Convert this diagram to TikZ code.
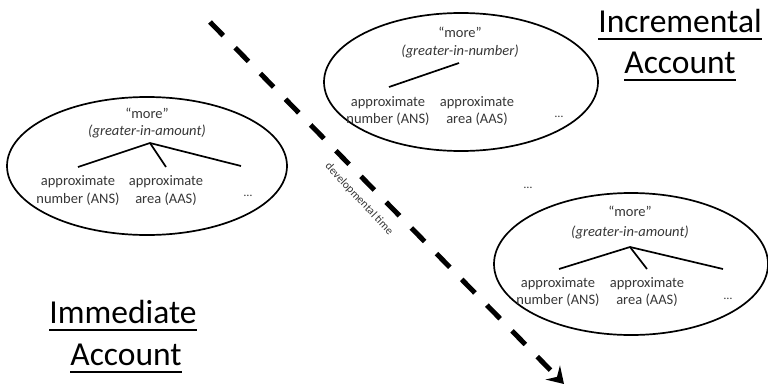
\documentclass[tikz,border=0pt]{standalone}
\usepackage{fontspec}
\setmainfont{Carlito}
\usetikzlibrary{shapes.geometric,arrows.meta}
\definecolor{txt}{HTML}{363636}
\newcommand\ulx[1]{\setbox0\hbox{#1}\rlap{\rule[-7.5pt]{\wd0}{1.9pt}}\box0}
\tikzset{
  oval/.style={draw, ellipse, line width=1.7pt, inner sep=0pt},
  lbl/.style={font=\fontsize{14.5}{16}\selectfont, text=txt, inner sep=0pt, anchor=base},
  ilbl/.style={lbl, font=\fontsize{14.5}{16}\selectfont\itshape},
  dots/.style={font=\fontsize{12}{14}\selectfont, text=txt, inner sep=0pt, anchor=base},
  title/.style={font=\fontsize{33.5}{40}\selectfont, inner sep=0pt, anchor=base},
  branch/.style={line width=1.7pt},
  timearrow/.style={line width=5pt, dash pattern=on 19pt off 17pt, -{Stealth[length=16pt,width=20pt,inset=6pt]}}
}
\begin{document}
\begin{tikzpicture}[x=1pt,y=-1pt]
\useasboundingbox (0,0) rectangle (768,391);
% time arrow
\coordinate (ts) at (210,22);
\coordinate (te) at (564,384);
\draw[timearrow] (ts) -- (te);
\node[font=\fontsize{11.5}{13}\selectfont, text=txt, rotate=-47, inner sep=0pt] (dt) at (359,199) {developmental time};

% left ellipse (immediate)
\node[oval, minimum width=280pt, minimum height=138pt] (E1) at (147,166) {};
\node[lbl] (m1) at (147,118) {“more”};
\node[ilbl] (g1) at (147,135) {(greater-in-amount)};
\coordinate (a1) at (150,143);
\coordinate (l1) at (78,167);
\coordinate (c1) at (166,167);
\coordinate (r1) at (241,166);
\draw[branch] (l1) -- (a1) -- (r1);
\draw[branch] (a1) -- (c1);
\node[lbl] (ap1) at (78,185) {approximate};
\node[lbl] (n1) at (78,203) {number (ANS)};
\node[lbl] (ap1b) at (166,185) {approximate};
\node[lbl] (ar1) at (166,203) {area (AAS)};
\node[dots] (d1) at (248,196) {…};

% top right ellipse
\node[oval, minimum width=274pt, minimum height=138pt] (E2) at (461,82) {};
\node[lbl] (m2) at (460,37) {“more”};
\node[ilbl] (g2) at (460,55) {(greater-in-number)};
\coordinate (a2) at (459,63);
\coordinate (l2) at (389,87);
\draw[branch] (l2) -- (a2);
\node[lbl] (ap2) at (388,106) {approximate};
\node[lbl] (n2) at (388,123) {number (ANS)};
\node[lbl] (ap2b) at (477,106) {approximate};
\node[lbl] (ar2) at (477,123) {area (AAS)};
\node[dots] (d2) at (559,117) {…};

% middle dots
\node[dots] (dm) at (528,188) {…};

% bottom right ellipse
\node[oval, minimum width=274pt, minimum height=142pt] (E3) at (631,264) {};
\node[lbl] (m3) at (630,216) {“more”};
\node[ilbl] (g3) at (630,236) {(greater-in-amount)};
\coordinate (a3) at (630,247);
\coordinate (l3) at (559,269);
\coordinate (c3) at (647,269);
\coordinate (r3) at (723,269);
\draw[branch] (l3) -- (a3) -- (r3);
\draw[branch] (a3) -- (c3);
\node[lbl] (ap3) at (558,287) {approximate};
\node[lbl] (n3) at (558,304) {number (ANS)};
\node[lbl] (ap3b) at (647,287) {approximate};
\node[lbl] (ar3) at (647,304) {area (AAS)};
\node[dots] (d3) at (728,299) {…};

% titles
\node[title] (inc1) at (680,32) {\ulx{Incremental}};
\node[title] (inc2) at (680,73) {\ulx{Account}};
\node[title] (imm1) at (123,323) {\ulx{Immediate}};
\node[title] (imm2) at (126,365) {\ulx{Account}};
\end{tikzpicture}
\end{document}
